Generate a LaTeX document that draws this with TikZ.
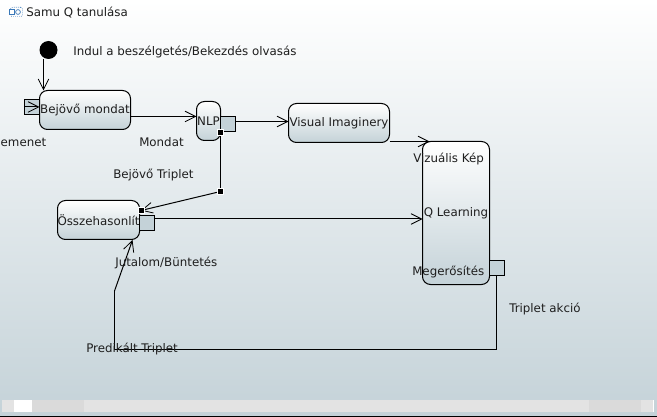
\documentclass[tikz,border=0pt]{standalone}
\usepackage{fontspec}
\setmainfont{DejaVu Sans}
\usetikzlibrary{arrows.meta,calc}
\definecolor{grad}{HTML}{C4D2D8}
\definecolor{txt}{HTML}{1E1E1E}
\definecolor{barA}{HTML}{E3E3E3}
\definecolor{barB}{HTML}{DADADA}
\definecolor{icon}{HTML}{3A78B8}
\tikzset{
  x=0.75pt,y=-0.75pt,
  wire/.style={draw=black,line width=0.75pt},
  flow/.style={wire,-{Straight Barb[length=8pt,width=8pt,line width=0.6pt]}},
  state/.style={draw=black,line width=0.75pt,rounded corners=6pt,top color=white,bottom color=grad,
    inner sep=0pt,outer sep=0pt,anchor=north west,text=txt,font=\fontsize{8.88}{11}\selectfont},
  boxwh/.style 2 args={minimum width=#1*0.75pt,minimum height=#2*0.75pt},
  port/.style={draw=black,line width=0.75pt,fill=grad,inner sep=0pt,outer sep=0pt,
    minimum width=11.25pt,minimum height=11.25pt,anchor=north west},
  handle/.style={draw=white,line width=0.4pt,fill=black,inner sep=0pt,outer sep=0pt,
    minimum width=4.5pt,minimum height=4.5pt},
  lbl/.style={anchor=west,inner sep=0pt,text=txt,font=\fontsize{8.88}{11}\selectfont},
}
\begin{document}
\begin{tikzpicture}
\useasboundingbox (0,0) rectangle (657,417);
% canvas
\shade[top color=white,bottom color=grad] (0,0) rectangle (657,417);
\fill[barA] (2,400) rectangle (654,412);
\fill[white] (14,400) rectangle (32,412);
\fill[barB] (32,400) rectangle (84,412);
\fill[barB] (589,400) rectangle (641,412);
\fill[white] (653,400) rectangle (654,412);
\draw[black,line width=0.75pt] (0,416.5) -- (657,416.5);
% title
\node[draw=icon,densely dotted,line width=0.5pt,rounded corners=1.5pt,inner sep=0pt,minimum width=9pt,minimum height=7pt] (ic2) at (16.5,12) {};
\node[draw=icon,line width=0.5pt,inner sep=0pt,minimum width=4pt,minimum height=3.6pt,fill=white] (ic1) at (11.5,12) {};
\node[draw=icon,line width=0.5pt,circle,inner sep=0pt,minimum width=3.6pt] (ic3) at (18,12) {};
\node[lbl] (title) at (26,12.5) {Samu Q tanulása};
% connectors' way points
\coordinate (w1) at (220.5,191.5);
\coordinate (w2) at (496.5,349.5);
\coordinate (w3) at (114.5,349.5);
\coordinate (w4) at (114.5,291);
\coordinate (e1) at (141,210.5);
\coordinate (e2) at (132.5,240);
% nodes
\node[circle,fill=black,inner sep=0pt,minimum size=13.5pt] (start) at (48.5,50) {};
\node[state,boxwh={91}{39}] (bm) at (39.5,90.5) {Bejövő mondat};
\node[port] (pin) at (24.5,99.5) {};
\node[state,boxwh={24}{39},rounded corners=6pt] (nlp) at (196.5,101.5) {NLP};
\node[port] (pnlp) at (220.5,116.5) {};
\node[state,boxwh={101}{39}] (vi) at (288.5,103.5) {Visual Imaginery};
\node[state,boxwh={67}{143}] (ql) at (422.5,141.5) {Q Learning};
\node[port] (pql) at (489.5,260.5) {};
\node[state,boxwh={82}{39}] (cmp) at (57.5,200.5) {Összehasonlít};
\node[port] (pcmp) at (139.5,215.5) {};
% connectors
\draw[flow] (start.south -| 43.5,0) -- (bm.north -| 43.5,0);
\draw[flow] (pin.west) -- (pin.east);
\draw[flow] (bm.east |- 0,116.5) -- (nlp.west |- 0,116.5);
\draw[flow] (pnlp.east |- 0,121.5) -- (vi.west |- 0,121.5);
\draw[flow] (vi.east |- ql.north) -- (429.5,141.5);
\draw[flow] (pcmp.east |- 0,219) -- (ql.west |- 0,219);
\draw[wire] (pnlp.south west) -- (w1);
\draw[flow] (w1) -- (e1);
\draw[wire] (pql.south -| w2) -- (w2) -- (w3) -- (w4);
\draw[flow] (w4) -- (e2);
% handles
\node[handle] (h1) at (220.5,132.5) {};
\node[handle] (h2) at (w1) {};
\node[handle] (h3) at (e1) {};
% labels
\node[lbl] (l0) at (73,52) {Indul a beszélgetés/Bekezdés olvasás};
\node[lbl,anchor=east] (l1) at (46.5,142) {emenet};
\node[lbl] (l2) at (139,142) {Mondat};
\node[lbl] (l3) at (113,174.5) {Bejövő Triplet};
\node[lbl] (l4) at (115,262.5) {Jutalom/Büntetés};
\node[lbl] (l5) at (86,348.5) {Predikált Triplet};
\node[lbl] (l6) at (413,158.5) {Vizuális Kép};
\node[lbl] (l7) at (412,271.5) {Megerősítés};
\node[lbl] (l8) at (509,308.5) {Triplet akció};
\end{tikzpicture}
\end{document}
